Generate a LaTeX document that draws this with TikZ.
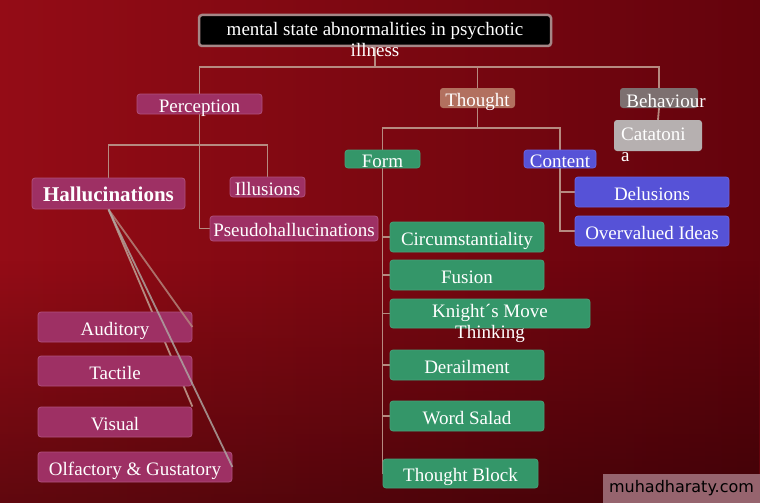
\documentclass[tikz,border=0pt]{standalone}
\usepackage{fontspec}
\setmainfont{Liberation Serif}
\newfontfamily\wmfont{DejaVu Sans}
\usetikzlibrary{fadings}
\definecolor{bgleft}{RGB}{148,12,22}
\definecolor{bgmid}{RGB}{140,10,20}
\definecolor{bgright}{RGB}{100,3,12}
\definecolor{titleedge}{RGB}{165,135,135}
\definecolor{perc}{RGB}{158,48,100}
\definecolor{percedge}{RGB}{175,80,125}
\definecolor{thoughtc}{RGB}{178,112,95}
\definecolor{behc}{RGB}{125,112,112}
\definecolor{catc}{RGB}{182,176,176}
\definecolor{form}{RGB}{52,150,105}
\definecolor{formedge}{RGB}{70,160,120}
\definecolor{cont}{RGB}{86,82,215}
\definecolor{contedge}{RGB}{105,100,225}
\definecolor{linkc}{RGB}{182,138,128}
\definecolor{linkgray}{RGB}{175,170,165}
\definecolor{wmc}{RGB}{150,100,110}
\pgfdeclarelayer{bg}
\pgfdeclarelayer{lines}
\pgfsetlayers{bg,lines,main}

\begin{document}
\begin{tikzpicture}[x=1pt, y=-1pt,
  txt/.style={inner sep=0pt, text=white, font=\fontsize{19}{21}\selectfont},
  box/.style={txt, rounded corners=3pt, text height=16pt, text depth=0pt},
  titlebox/.style={box, fill=black, draw=titleedge, line width=2.5pt},
  percbox/.style={box, fill=perc, draw=percedge, line width=0.8pt},
  formbox/.style={box, fill=form, draw=formedge, line width=0.8pt},
  contbox/.style={box, fill=cont, draw=contedge, line width=0.8pt},
  link/.style={draw=linkc, line width=1.8pt}]
\useasboundingbox (0,0) rectangle (760,503);

% Hintergrund
\begin{pgfonlayer}{bg}
\shade[left color=bgleft, middle color=bgmid, right color=bgright] (0,0) rectangle (760,503);
\fill[black, opacity=0.35, path fading=north] (0,260) rectangle (760,503);
\end{pgfonlayer}

% Titel
\node[titlebox, minimum width=352, minimum height=31] (top) at (375,30.5) {};
\node[txt, align=center] (toptxt) at (375,39.5) {mental state abnormalities in psychotic\\illness};

% erste Ebene
\node[percbox, minimum width=125, minimum height=20] (perc) at (199.5,104) {Perception};
\node[box, fill=thoughtc, minimum width=75, minimum height=20] (thought) at (477.5,98) {Thought};
\node[box, fill=behc, minimum width=78, minimum height=20] (beh) at (659,98) {};
\node[txt] (behtxt) at (666,101) {Behaviour};
\node[box, fill=catc, minimum width=88, minimum height=31] (cat) at (658,135.5) {};
\node[txt, align=left, anchor=north west] (cattxt) at (621,128) {Catatoni\\a};

% Wahrnehmung
\node[percbox, font=\fontsize{21}{24}\selectfont\bfseries, minimum width=153, minimum height=31] (hal) at (108.5,193.5) {Hallucinations};
\node[percbox, minimum width=75, minimum height=20] (ill) at (267.5,187) {Illusions};
\node[percbox, minimum width=168, minimum height=25] (pseudo) at (294,228.5) {Pseudohallucinations};
\foreach \nm/\y/\lbl in {aud/327/Auditory, tac/371/Tactile, vis/422/Visual}
  \node[percbox, minimum width=154, minimum height=30] (\nm) at (115,\y) {\lbl};
\node[percbox, minimum width=194, minimum height=30] (olf) at (135,467) {Olfactory \& Gustatory};

% Denken: Form und Inhalt
\node[formbox, minimum width=75, minimum height=18] (form) at (382.5,159) {Form};
\node[contbox, minimum width=72, minimum height=18] (content) at (560,159) {Content};
\foreach \nm/\y/\lbl in {circ/237/Circumstantiality, fus/275/Fusion, derail/365/Derailment, salad/416/Word Salad}
  \node[formbox, minimum width=154, minimum height=30] (\nm) at (467,\y) {\lbl};
\node[formbox, minimum width=200, minimum height=29] (knight) at (490,313.5) {};
\node[txt, align=center] (knighttxt) at (490,323.5) {Knight´s Move\\Thinking};
\node[formbox, minimum width=155, minimum height=29] (block) at (460.5,473.5) {Thought Block};
\node[contbox, minimum width=154, minimum height=30] (del) at (652,192) {Delusions};
\node[contbox, minimum width=154, minimum height=30] (ovi) at (652,231) {Overvalued Ideas};

% Wasserzeichen
\node[fill=wmc, inner sep=0pt, minimum width=157, minimum height=29, text=black,
  font=\wmfont\fontsize{16}{18}\selectfont] (wm) at (681.5,488.5) {muhadharaty.com};

% Verbindungen
\begin{pgfonlayer}{lines}
\coordinate (j1) at (375,67);
\draw[link] (top.south) -- (j1);
\draw[link] (j1) -| (perc.north);
\draw[link] (j1) -| (thought.north);
\draw[link] (j1) -| (beh.north);
\draw[link] (beh.south) -- (cat.north);
\coordinate (j2) at (perc.south |- 0,145);
\draw[link] (perc.south) |- (pseudo.west);
\draw[link] (j2) -| (hal.north);
\draw[link] (j2) -| (ill.north);
\coordinate (j3) at (thought.south |- 0,128);
\draw[link] (thought.south) -- (j3);
\draw[link] (j3) -| (form.north);
\draw[link] (j3) -| (content.north);
\foreach \nm in {circ, fus, knight, derail, salad, block}
  \draw[link] (form.south) |- (\nm.west);
\foreach \nm in {del, ovi}
  \draw[link] (content.south) |- (\nm.west);
\draw[link] (hal.south) -- (vis.north east);
\end{pgfonlayer}
\draw[link, opacity=0.8] (hal.south) -- (aud.east);
\draw[link, draw=linkgray, opacity=0.8] (hal.south) -- (olf.east);
\end{tikzpicture}
\end{document}
